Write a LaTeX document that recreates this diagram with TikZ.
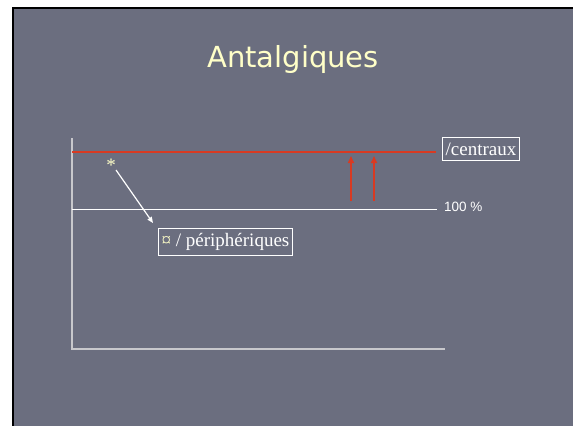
\documentclass[tikz,border=0pt]{standalone}
\usepackage{fontspec}
\setmainfont{Liberation Serif}
\newfontfamily\titlefont{DejaVu Sans}
\newfontfamily\arialfont{Liberation Sans}
\definecolor{slidebg}{HTML}{6B6E7F}
\definecolor{paleyellow}{HTML}{FFFFC8}
\definecolor{axisgray}{HTML}{C8C8CC}
\definecolor{redline}{HTML}{D83A22}
\usetikzlibrary{arrows.meta}
\tikzset{
  labelbox/.style={draw=white, line width=0.8pt, text=white, inner xsep=3.5pt, inner ysep=5pt, font=\fontsize{19}{22}\selectfont},
  axisline/.style={draw=axisgray, line width=1.5pt},
  redarrow/.style={draw=redline, line width=1.5pt, -{Triangle[length=7pt,width=6pt]}},
}
\begin{document}
\begin{tikzpicture}[x=1pt,y=-1pt]
\useasboundingbox (0,0) rectangle (573,426);
\fill[white] (0,0) rectangle (573,426);
\fill[black] (12,7) rectangle (573,426);
\fill[slidebg] (14,9) rectangle (573,426);
% title
\node[text=paleyellow, font=\titlefont\fontsize{29}{34}\selectfont] (title) at (293,59) {Antalgiques};
% axes
\coordinate (otop) at (72,138);
\coordinate (o) at (72,349);
\coordinate (xend) at (445,349);
\draw[axisline] (otop) -- (o) -- (xend);
% lines
\coordinate (redL) at (72,152);
\coordinate (redR) at (436,152);
\draw[draw=redline, line width=1.5pt] (redL) -- (redR);
\coordinate (whL) at (72,209);
\coordinate (whR) at (437,209);
\draw[draw=white, line width=1pt] (whL) -- (whR);
\node[anchor=west, text=white, font=\arialfont\fontsize{13.5}{16}\selectfont, inner sep=0pt] (pct) at (444,207) {100 \%};
% labels
\node[labelbox] (centr) at (481,149) {/centraux};
\node[labelbox] (peri) at (225.5,242) {{\color{paleyellow}¤} / périphériques};
% red arrows
\coordinate (a1s) at (351,201);
\coordinate (a1e) at (351,156);
\coordinate (a2s) at (374,201);
\coordinate (a2e) at (374,156);
\draw[redarrow] (a1s) -- (a1e);
\draw[redarrow] (a2s) -- (a2e);
% star and arrow
\node[text=paleyellow, font=\fontsize{19}{22}\selectfont, inner sep=0pt] (star) at (111,165) {*};
\coordinate (arrS) at (116,170);
\coordinate (arrE) at (153,223);
\draw[white, line width=1.2pt, -{Triangle[length=6pt,width=5pt]}] (arrS) -- (arrE);
\end{tikzpicture}
\end{document}
